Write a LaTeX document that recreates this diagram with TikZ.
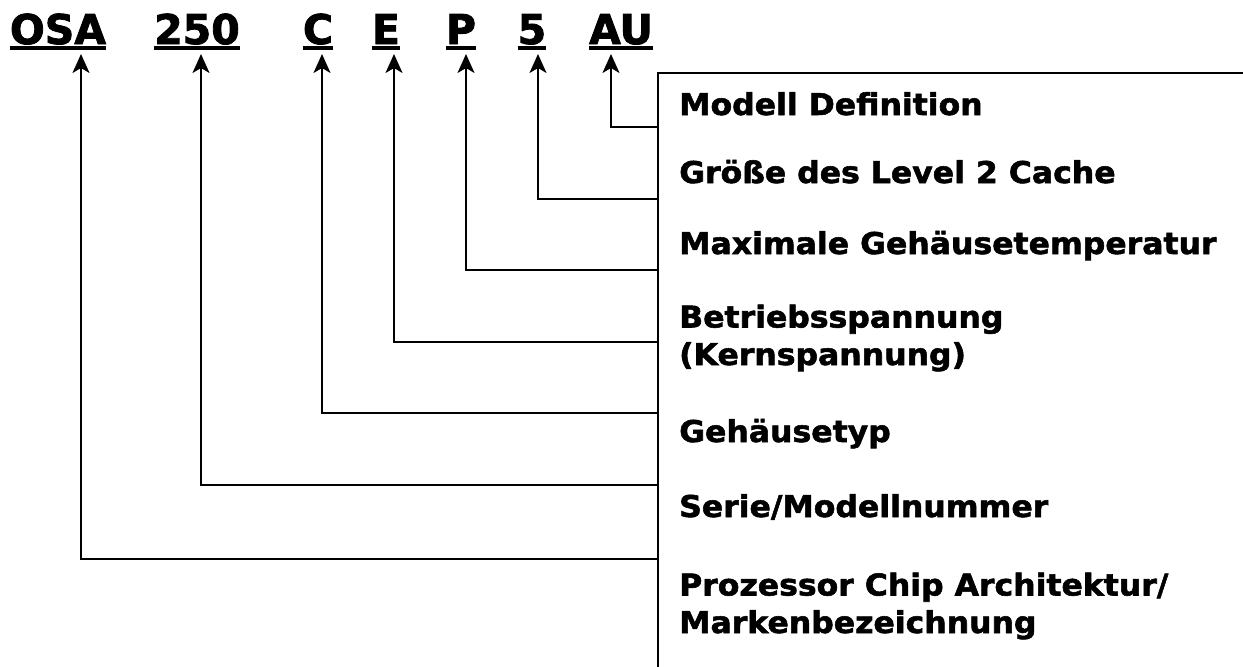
\documentclass[tikz,border=0pt]{standalone}
\usepackage{fontspec}
\setmainfont{DejaVu Sans}[FakeBold=2]
\newfontfamily\descfont{DejaVu Sans}[FakeStretch=1.05,FakeBold=1.8]
\usetikzlibrary{arrows.meta}
\tikzset{
  code/.style={font=\fontsize{41}{41}\bfseries\selectfont, inner sep=0pt, anchor=base},
  desc/.style={font=\descfont\fontsize{30}{37.5}\bfseries\selectfont, inner sep=0pt, anchor=base west, align=left},
  ul/.style={line width=4pt},
  conn/.style={line width=2pt, -{Stealth[length=19pt,width=17pt,inset=5pt]}},
  frame/.style={line width=2pt},
}
\begin{document}
\begin{tikzpicture}[x=1pt,y=-1pt]
\useasboundingbox (0,0) rectangle (1243,667);
% codes
\node[code] (osa) at (58,44) {OSA};
\node[code] (n250) at (197,44) {250};
\node[code] (c) at (318,44) {C};
\node[code] (e) at (386,44) {E};
\node[code] (p) at (461,44) {P};
\node[code] (five) at (532,44) {5};
\node[code] (au) at (621,44) {AU};
\foreach \n in {osa,n250,c,e,p,five,au}{
  \draw[ul] ([yshift=-4pt]\n.base west -| \n.west) -- ([yshift=-4pt]\n.base east -| \n.east);
}
% frame
\coordinate (ftop) at (658,73);
\coordinate (fbot) at (658,667);
\coordinate (fright) at (1243,73);
\draw[frame] (fright) -- (ftop) -- (fbot);
% descriptions
\node[desc] (d1) at (679,115) {Modell Definition};
\node[desc] (d2) at (679,183) {Größe des Level 2 Cache};
\node[desc] (d3) at (679,254) {Maximale Gehäusetemperatur};
\node[desc] (d4) at (679,365) {Betriebsspannung\\(Kernspannung)};
\node[desc] (d5) at (679,442) {Gehäusetyp};
\node[desc] (d6) at (679,517) {Serie/Modellnummer};
\node[desc] (d7) at (679,633) {Prozessor Chip Architektur/\\Markenbezeichnung};
% connectors
\coordinate (j1) at (658,127);
\coordinate (j2) at (658,199);
\coordinate (j3) at (658,270);
\coordinate (j4) at (658,342);
\coordinate (j5) at (658,413);
\coordinate (j6) at (658,485);
\coordinate (j7) at (658,559);
\draw[conn] (j1) -- (611,127) -- (611,54);
\draw[conn] (j2) -- (538,199) -- (538,54);
\draw[conn] (j3) -- (466,270) -- (466,54);
\draw[conn] (j4) -- (394,342) -- (394,54);
\draw[conn] (j5) -- (322,413) -- (322,54);
\draw[conn] (j6) -- (201,485) -- (201,54);
\draw[conn] (j7) -- (81,559) -- (81,54);
\end{tikzpicture}
\end{document}
